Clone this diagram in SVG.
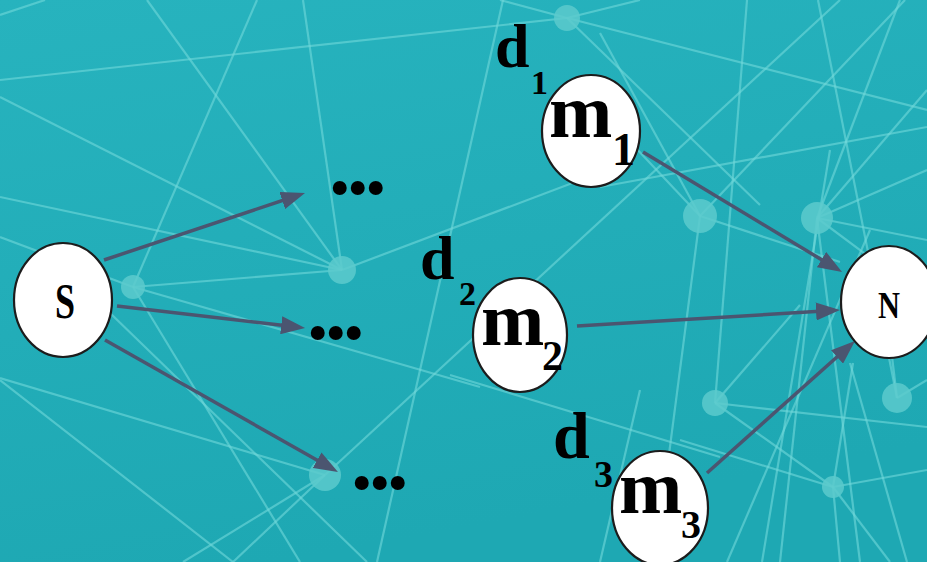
<svg xmlns="http://www.w3.org/2000/svg" width="927" height="562" viewBox="0 0 927 562">
  <defs>
    <linearGradient id="bg" x1="0" y1="0" x2="0.3" y2="1">
      <stop offset="0" stop-color="#27b3be"/>
      <stop offset="1" stop-color="#1ea8b3"/>
    </linearGradient>
    <marker id="arrow" markerUnits="userSpaceOnUse" markerWidth="24" markerHeight="18" refX="16" refY="9" orient="auto">
      <path d="M0,0 L24,9 L0,18 z" fill="#4b5570"/>
    </marker>
    <style>
      .web line { stroke: #72d8da; stroke-width: 2.2; stroke-opacity: 0.6; }
      .web circle { fill: #5ccacd; fill-opacity: 0.85; }
      .edge { stroke: #4b5570; stroke-width: 3.5; fill: none; marker-end: url(#arrow); }
      .node ellipse { fill: #ffffff; stroke: #1c1c1c; stroke-width: 2.2; }
      .big { font-family: "Liberation Serif", "Times New Roman", serif; font-weight: bold; fill: #000; }
      .dots { font-family: "Liberation Serif", "Times New Roman", serif; font-weight: bold; font-size: 86px; letter-spacing: -3.5px; fill: #000; }
    </style>
  </defs>

  <!-- backdrop -->
  <rect x="0" y="0" width="927" height="562" fill="url(#bg)"/>

  <!-- decorative network behind the diagram -->
  <g class="web">
    <line x1="0" y1="80" x2="567" y2="18"/>
    <line x1="0" y1="15" x2="45" y2="0"/>
    <line x1="147" y1="0" x2="342" y2="270"/>
    <line x1="257" y1="0" x2="133" y2="287"/>
    <line x1="303" y1="0" x2="342" y2="270"/>
    <line x1="0" y1="97" x2="342" y2="270"/>
    <line x1="0" y1="197" x2="342" y2="270"/>
    <line x1="0" y1="237" x2="133" y2="287"/>
    <line x1="342" y1="270" x2="620" y2="165"/>
    <line x1="503" y1="0" x2="377" y2="562"/>
    <line x1="325" y1="475" x2="840" y2="0"/>
    <line x1="325" y1="475" x2="183" y2="562"/>
    <line x1="325" y1="475" x2="233" y2="562"/>
    <line x1="0" y1="378" x2="325" y2="475"/>
    <line x1="0" y1="380" x2="233" y2="562"/>
    <line x1="133" y1="287" x2="300" y2="562"/>
    <line x1="133" y1="287" x2="480" y2="387"/>
    <line x1="133" y1="287" x2="342" y2="270"/>
    <line x1="110" y1="313" x2="367" y2="562"/>
    <line x1="567" y1="18" x2="927" y2="110"/>
    <line x1="567" y1="18" x2="640" y2="0"/>
    <line x1="567" y1="18" x2="500" y2="0"/>
    <line x1="567" y1="18" x2="760" y2="205"/>
    <line x1="747" y1="0" x2="715" y2="403"/>
    <line x1="818" y1="0" x2="897" y2="398"/>
    <line x1="817" y1="218" x2="927" y2="90"/>
    <line x1="817" y1="218" x2="900" y2="0"/>
    <line x1="600" y1="187" x2="927" y2="127"/>
    <line x1="600" y1="33" x2="700" y2="216"/>
    <line x1="700" y1="216" x2="655" y2="562"/>
    <line x1="700" y1="216" x2="840" y2="262"/>
    <line x1="700" y1="216" x2="905" y2="0"/>
    <line x1="700" y1="216" x2="600" y2="110"/>
    <line x1="817" y1="218" x2="927" y2="170"/>
    <line x1="817" y1="218" x2="927" y2="240"/>
    <line x1="817" y1="218" x2="927" y2="300"/>
    <line x1="817" y1="218" x2="780" y2="562"/>
    <line x1="817" y1="218" x2="860" y2="562"/>
    <line x1="715" y1="403" x2="800" y2="305"/>
    <line x1="715" y1="403" x2="927" y2="427"/>
    <line x1="715" y1="403" x2="833" y2="487"/>
    <line x1="833" y1="487" x2="927" y2="470"/>
    <line x1="833" y1="487" x2="840" y2="562"/>
    <line x1="833" y1="487" x2="890" y2="562"/>
    <line x1="833" y1="487" x2="853" y2="363"/>
    <line x1="897" y1="398" x2="890" y2="340"/>
    <line x1="897" y1="398" x2="927" y2="380"/>
    <line x1="762" y1="562" x2="830" y2="150"/>
    <line x1="727" y1="562" x2="870" y2="230"/>
    <line x1="850" y1="363" x2="907" y2="562"/>
    <line x1="680" y1="440" x2="833" y2="487"/>
    <line x1="640" y1="390" x2="600" y2="562"/>
    <line x1="450" y1="375" x2="720" y2="457"/>
    <circle cx="567" cy="18" r="13"/>
    <circle cx="700" cy="216" r="17"/>
    <circle cx="817" cy="218" r="16"/>
    <circle cx="342" cy="270" r="14"/>
    <circle cx="133" cy="287" r="12"/>
    <circle cx="325" cy="475" r="16"/>
    <circle cx="715" cy="403" r="13"/>
    <circle cx="897" cy="398" r="15"/>
    <circle cx="833" cy="487" r="11"/>
  </g>

  <!-- connectors -->
  <g id="connectors">
    <line class="edge" x1="104" y1="260" x2="297.4" y2="195.5"/>
    <line class="edge" x1="117" y1="306" x2="297.1" y2="327.1"/>
    <line class="edge" x1="105" y1="340" x2="331.0" y2="468.1"/>
    <line class="edge" x1="643" y1="152" x2="835.2" y2="267.9"/>
    <line class="edge" x1="577" y1="326" x2="832.0" y2="310.5"/>
    <line class="edge" x1="707" y1="473" x2="849.0" y2="346.3"/>
  </g>

  <!-- elided intermediate hops -->
  <g id="ellipsis-top"><text class="dots" x="329" y="194">...</text></g>
  <g id="ellipsis-mid"><text class="dots" x="307" y="339">...</text></g>
  <g id="ellipsis-bottom"><text class="dots" x="351" y="489">...</text></g>

  <!-- source -->
  <g id="node-s" class="node">
    <ellipse cx="63" cy="300" rx="49" ry="57"/>
    <text class="big" font-size="50" text-anchor="middle" transform="translate(65,318) scale(0.72,1)">S</text>
  </g>

  <!-- destination -->
  <g id="node-n" class="node">
    <ellipse cx="889" cy="302" rx="48" ry="56"/>
    <text class="big" font-size="38" text-anchor="middle" transform="translate(889,318) scale(0.8,1)">N</text>
  </g>

  <!-- relay m1 with distance d1 -->
  <g id="node-m1" class="node">
    <ellipse cx="591" cy="131" rx="49" ry="56"/>
    <text class="big" x="549" y="137" font-size="76">m</text>
    <text class="big" x="612" y="165" font-size="46">1</text>
    <text class="big" x="495" y="67" font-size="62">d</text>
    <text class="big" x="531" y="94" font-size="34">1</text>
  </g>

  <!-- relay m2 with distance d2 -->
  <g id="node-m2" class="node">
    <ellipse cx="520" cy="335" rx="47" ry="57"/>
    <text class="big" x="481" y="345" font-size="76">m</text>
    <text class="big" x="542" y="370" font-size="42">2</text>
    <text class="big" x="420" y="279" font-size="62">d</text>
    <text class="big" x="459" y="305" font-size="34">2</text>
  </g>

  <!-- relay m3 with distance d3 -->
  <g id="node-m3" class="node">
    <ellipse cx="660" cy="508" rx="48" ry="57"/>
    <text class="big" x="619" y="513" font-size="76">m</text>
    <text class="big" x="681" y="538" font-size="40">3</text>
    <text class="big" x="553" y="458" font-size="66">d</text>
    <text class="big" x="594" y="487" font-size="38">3</text>
  </g>
</svg>
